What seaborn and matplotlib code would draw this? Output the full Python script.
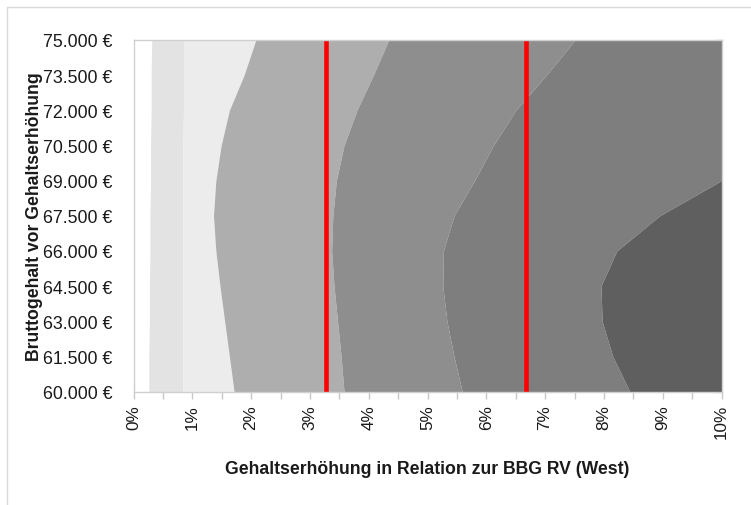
import numpy as np
import pandas as pd
import matplotlib.pyplot as plt
import matplotlib.ticker as mticker
from matplotlib.patches import Rectangle
import seaborn as sns

# salary levels (y axis) and the x position (%) of each contour edge at that level
salary = [60000, 61500, 63000, 64500, 66000, 67500, 69000, 70500, 72000, 73500, 75000]
edge_white = [0.26, 0.26, 0.27, 0.27, 0.28, 0.28, 0.29, 0.29, 0.30, 0.30, 0.31]
edge_pale = [0.84, 0.84, 0.84, 0.84, 0.84, 0.84, 0.84, 0.84, 0.85, 0.85, 0.85]
edge_light = [1.71, 1.63, 1.55, 1.47, 1.40, 1.36, 1.40, 1.49, 1.63, 1.88, 2.08]
edge_mid = [3.58, 3.53, 3.47, 3.41, 3.37, 3.39, 3.45, 3.58, 3.80, 4.08, 4.34]
edge_gray = [5.59, 5.45, 5.33, 5.26, 5.27, 5.45, 5.80, 6.12, 6.50, 7.02, 7.51]
edge_dark = [8.44, 8.15, 7.97, 7.95, 8.22, 8.95, 10.0, 10.0, 10.0, 10.0, 10.0]

band_colors = ["#ffffff", "#e3e3e3", "#ececec", "#aeaeae", "#8e8e8e", "#7e7e7e", "#5f5f5f"]

# red marker lines (% of BBG)
red_lines = [3.27, 6.67]

x_ticks = list(range(0, 11))
y_ticks = salary

sns.set_style("white")
plt.rcParams['font.family'] = ['Liberation Sans', 'DejaVu Sans']

fig = plt.figure(figsize=(7.51, 5.06), dpi=100)
ax = fig.add_axes([133.5 / 751, 1 - 392.5 / 506, 588 / 751, 351.5 / 506])

edges = [0.0, edge_white, edge_pale, edge_light, edge_mid, edge_gray, edge_dark, 10.0]
for i, col in enumerate(band_colors):
    ax.fill_betweenx(salary, edges[i], edges[i + 1], color=col, lw=0, zorder=1)

lines = pd.DataFrame({
    "x": [v for v in red_lines for _ in range(2)],
    "y": [salary[0], salary[-1]] * len(red_lines),
    "line": [k for k in range(len(red_lines)) for _ in range(2)],
})
sns.lineplot(data=lines, x="x", y="y", units="line", estimator=None, sort=False,
             color="#ff0000", lw=3.3, legend=False, ax=ax, zorder=3)

ax.set_xlim(0, 10)
ax.set_ylim(60000, 75000)
ax.set_xticks(x_ticks)
ax.xaxis.set_minor_locator(mticker.MultipleLocator(0.5))
ax.xaxis.set_major_formatter(mticker.FuncFormatter(lambda v, p: f"{v:.0f}%"))
ax.set_yticks(y_ticks)
ax.yaxis.set_major_formatter(mticker.FuncFormatter(
    lambda v, p: f"{v:,.0f} €".replace(",", ".")))

tick_gray = "#c8c8c8"
ax.tick_params(axis="x", which="both", bottom=True, direction="out", length=5,
               width=1, color=tick_gray, labelrotation=90, labelsize=12.3,
               labelcolor="#1a1a1a", pad=4)
ax.tick_params(axis="y", left=False, right=True, direction="in", length=5,
               width=1, color=tick_gray, labelsize=12.8, labelcolor="#1a1a1a", pad=15)

for s in ax.spines.values():
    s.set_color("#d0d0d0")
    s.set_linewidth(1)
    s.set_zorder(4)

ax.set_xlabel("Gehaltserhöhung in Relation zur BBG RV (West)", fontsize=12.7,
              fontweight="bold", color="#1a1a1a")
ax.set_ylabel("Bruttogehalt vor Gehaltserhöhung", fontsize=12.7,
              fontweight="bold", color="#1a1a1a")
ax.xaxis.set_label_coords(0.5, -0.196)
ax.yaxis.set_label_coords(-0.154, 0.5)

fig.patches.append(Rectangle((7 / 751, -0.1), 1.2, 1.1 - 8 / 506, fill=False,
                             edgecolor="#d9d9d9", lw=1, transform=fig.transFigure))

fig.savefig("out.png", dpi=100)
